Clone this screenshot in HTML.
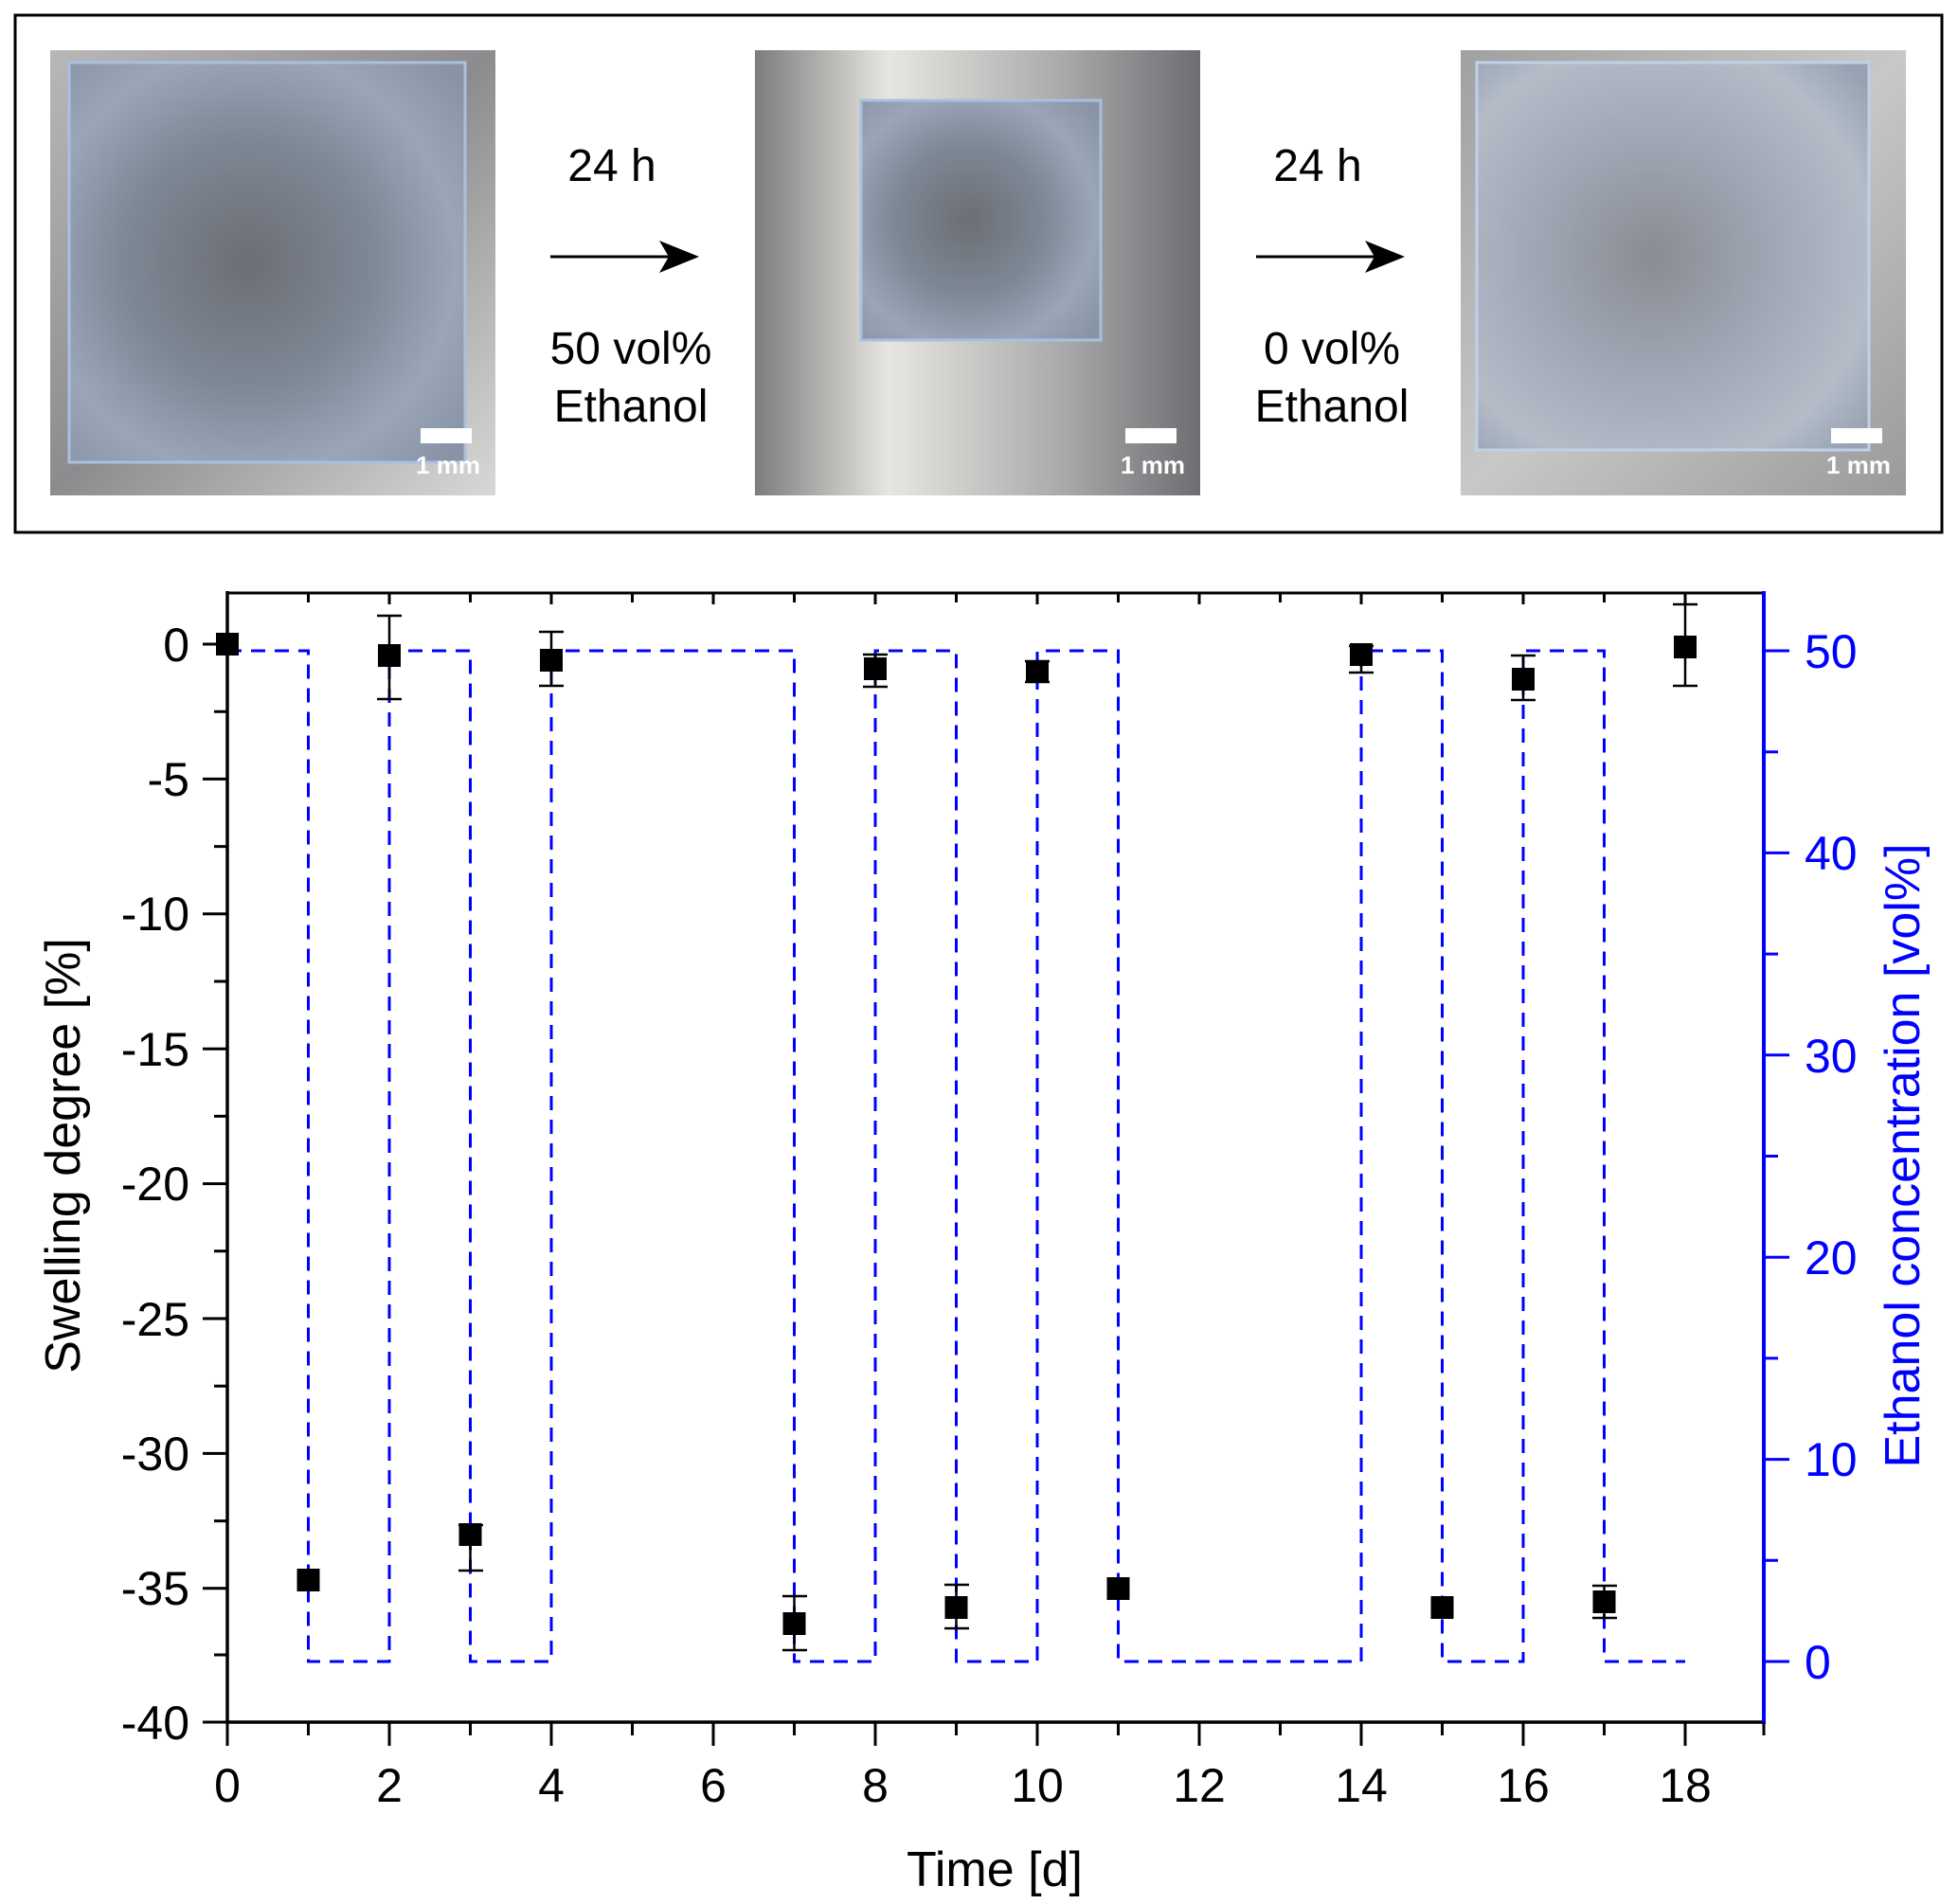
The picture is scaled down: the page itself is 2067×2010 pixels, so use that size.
<!DOCTYPE html>
<html><head><meta charset="utf-8"><style>html,body{margin:0;padding:0;background:#fff}svg{display:block}</style></head>
<body>
<svg width="2067" height="2010" viewBox="0 0 2067 2010" xmlns="http://www.w3.org/2000/svg" font-family="Liberation Sans, Arial, sans-serif">
<defs>
<linearGradient id="bg1" x1="0" y1="0" x2="1" y2="1"><stop offset="0" stop-color="#b8b8b8"/><stop offset="0.5" stop-color="#8c8c8e"/><stop offset="1" stop-color="#d8d8d6"/></linearGradient>
<linearGradient id="bg2" x1="0" y1="0" x2="1" y2="0"><stop offset="0" stop-color="#7c7c7e"/><stop offset="0.3" stop-color="#e8e6e0"/><stop offset="0.7" stop-color="#a8a8aa"/><stop offset="1" stop-color="#6e6e72"/></linearGradient>
<linearGradient id="bg3" x1="0" y1="0" x2="1" y2="1"><stop offset="0" stop-color="#a0a0a2"/><stop offset="0.5" stop-color="#c8c8c8"/><stop offset="1" stop-color="#9a9a9c"/></linearGradient>
<radialGradient id="sq" cx="0.45" cy="0.5" r="0.7"><stop offset="0" stop-color="#6c6e74"/><stop offset="0.45" stop-color="#7e8896"/><stop offset="0.75" stop-color="#9aa6b8"/><stop offset="1" stop-color="#8894a6"/></radialGradient>
<radialGradient id="sq3" cx="0.45" cy="0.5" r="0.7"><stop offset="0" stop-color="#8a8c92"/><stop offset="0.45" stop-color="#a0a8b6"/><stop offset="0.8" stop-color="#b4bcc8"/><stop offset="1" stop-color="#98a2b2"/></radialGradient>
</defs>
<rect x="16" y="16" width="2034" height="546" fill="#fff" stroke="#000" stroke-width="3"/>
<g transform="translate(53,53)">
<rect width="470" height="470" fill="url(#bg1)"/>
<rect x="20" y="13" width="418" height="422" fill="url(#sq)" stroke="#a8c0e0" stroke-width="3"/>
<rect x="391" y="399" width="54" height="16" fill="#fff"/>
<text x="420" y="447" font-size="26" font-weight="bold" fill="#fff" text-anchor="middle">1 mm</text>
</g>
<g transform="translate(797,53)">
<rect width="470" height="470" fill="url(#bg2)"/>
<rect x="112" y="53" width="253" height="253" fill="url(#sq)" stroke="#a8c0e0" stroke-width="3"/>
<rect x="391" y="399" width="54" height="16" fill="#fff"/>
<text x="420" y="447" font-size="26" font-weight="bold" fill="#fff" text-anchor="middle">1 mm</text>
</g>
<g transform="translate(1542,53)">
<rect width="470" height="470" fill="url(#bg3)"/>
<rect x="17" y="13" width="414" height="409" fill="url(#sq3)" stroke="#c0d0e8" stroke-width="3"/>
<rect x="391" y="399" width="54" height="16" fill="#fff"/>
<text x="420" y="447" font-size="26" font-weight="bold" fill="#fff" text-anchor="middle">1 mm</text>
</g>
<g font-size="48" fill="#000" text-anchor="middle">
<text x="646" y="191">24 h</text>
<text x="666" y="384">50 vol%</text>
<text x="666" y="445">Ethanol</text>
<text x="1391" y="191">24 h</text>
<text x="1406" y="384">0 vol%</text>
<text x="1406" y="445">Ethanol</text>
</g>
<line x1="581" y1="271" x2="710" y2="271" stroke="#000" stroke-width="3"/>
<polygon points="738,271 696,254 706,271 696,288" fill="#000"/>
<line x1="1326" y1="271" x2="1455" y2="271" stroke="#000" stroke-width="3"/>
<polygon points="1483,271 1441,254 1451,271 1441,288" fill="#000"/>

<line x1="240" y1="626" x2="1862" y2="626" stroke="#000" stroke-width="3"/>
<line x1="240" y1="1818" x2="1862" y2="1818" stroke="#000" stroke-width="3.5"/>
<line x1="240" y1="624" x2="240" y2="1820" stroke="#000" stroke-width="3.5"/>
<line x1="1862" y1="624" x2="1862" y2="1820" stroke="#0000ff" stroke-width="4"/>
<g stroke="#000" stroke-width="3">
<path d="M240 1818v25M411 1818v25M582 1818v25M753 1818v25M924 1818v25M1095 1818v25M1266 1818v25M1437 1818v25M1608 1818v25M1779 1818v25
M325.5 1818v14M496.5 1818v14M667.5 1818v14M838.5 1818v14M1009.5 1818v14M1180.5 1818v14M1351.5 1818v14M1522.5 1818v14M1693.5 1818v14M1862 1818v14
M240 626v12M325.5 626v10M411 626v12M496.5 626v10M582 626v12M667.5 626v10M753 626v12M838.5 626v10M924 626v12M1009.5 626v10M1095 626v12M1180.5 626v10M1266 626v12M1351.5 626v10M1437 626v12M1522.5 626v10M1608 626v12M1693.5 626v10M1779 626v12"/>
<path d="M214 680h26M214 822.4h26M214 964.8h26M214 1107.2h26M214 1249.6h26M214 1392h26M214 1534.4h26M214 1676.8h26M214 1818h26
M226 751.2h14M226 893.6h14M226 1036h14M226 1178.4h14M226 1320.8h14M226 1463.2h14M226 1605.6h14M226 1747h14"/>
</g>
<g stroke="#0000ff" stroke-width="3">
<path d="M1862 687h27M1862 900.4h27M1862 1113.8h27M1862 1327.2h27M1862 1540.6h27M1862 1754h27
M1862 793.7h15M1862 1007.1h15M1862 1220.5h15M1862 1433.9h15M1862 1647.3h15"/>
</g>
<g font-size="50" fill="#000" text-anchor="end">
<text x="200" y="698">0</text><text x="200" y="840">-5</text><text x="200" y="982">-10</text><text x="200" y="1125">-15</text>
<text x="200" y="1267">-20</text><text x="200" y="1410">-25</text><text x="200" y="1552">-30</text><text x="200" y="1694">-35</text><text x="200" y="1836">-40</text>
</g>
<g font-size="50" fill="#0000ff" text-anchor="start">
<text x="1905" y="705">50</text><text x="1905" y="918">40</text><text x="1905" y="1132">30</text><text x="1905" y="1345">20</text><text x="1905" y="1558">10</text><text x="1905" y="1772">0</text>
</g>
<g font-size="50" fill="#000" text-anchor="middle">
<text x="240" y="1902">0</text><text x="411" y="1902">2</text><text x="582" y="1902">4</text><text x="753" y="1902">6</text><text x="924" y="1902">8</text>
<text x="1095" y="1902">10</text><text x="1266" y="1902">12</text><text x="1437" y="1902">14</text><text x="1608" y="1902">16</text><text x="1779" y="1902">18</text>
</g>
<text x="1050" y="1991" font-size="52" text-anchor="middle">Time [d]</text>
<text transform="translate(84,1220) rotate(-90)" font-size="52" text-anchor="middle">Swelling degree [%]</text>
<text transform="translate(2026,1220) rotate(-90)" font-size="52" fill="#0000ff" text-anchor="middle">Ethanol concentration [vol%]</text>

<polyline fill="none" stroke="#0000ff" stroke-width="3" stroke-dasharray="15,10"
points="240,687 325.5,687 325.5,1754 411,1754 411,687 496.5,687 496.5,1754 582,1754 582,687 838.5,687 838.5,1754 924,1754 924,687 1009.5,687 1009.5,1754 1095,1754 1095,687 1180.5,687 1180.5,1754 1437,1754 1437,687 1522.5,687 1522.5,1754 1608,1754 1608,687 1693.5,687 1693.5,1754 1779,1754"/>

<g stroke="#000" stroke-width="2.5">
<path d="M411 650v88M398 650h26M398 738h26"/>
<path d="M582 667v57M569 667h26M569 724h26"/>
<path d="M496.5 1610v48M484 1610h26M484 1658h26"/>
<path d="M838.5 1685v57M826 1685h26M826 1742h26"/>
<path d="M924 691v34M911 691h26M911 725h26"/>
<path d="M1009.5 1673v46M997 1673h26M997 1719h26"/>
<path d="M1095 698v22M1082 698h26M1082 720h26"/>
<path d="M1437 682v28M1424 682h26M1424 710h26"/>
<path d="M1608 692v47M1595 692h26M1595 739h26"/>
<path d="M1693.5 1674v34M1681 1674h26M1681 1708h26"/>
<path d="M1779 634v90M1766 638h26M1766 724h26"/>
</g>
<g fill="#000">
<rect x="228" y="668" width="24" height="24"/>
<rect x="313.5" y="1656" width="24" height="24"/>
<rect x="399" y="680" width="24" height="24"/>
<rect x="484.5" y="1608" width="24" height="24"/>
<rect x="570" y="685" width="24" height="24"/>
<rect x="826.5" y="1702" width="24" height="24"/>
<rect x="912" y="694" width="24" height="24"/>
<rect x="997.5" y="1685" width="24" height="24"/>
<rect x="1083" y="697" width="24" height="24"/>
<rect x="1168.5" y="1665" width="24" height="24"/>
<rect x="1425" y="679" width="24" height="24"/>
<rect x="1510.5" y="1685" width="24" height="24"/>
<rect x="1596" y="705" width="24" height="24"/>
<rect x="1681.5" y="1679" width="24" height="24"/>
<rect x="1767" y="671" width="24" height="24"/>
</g>
</svg>
</body></html>
